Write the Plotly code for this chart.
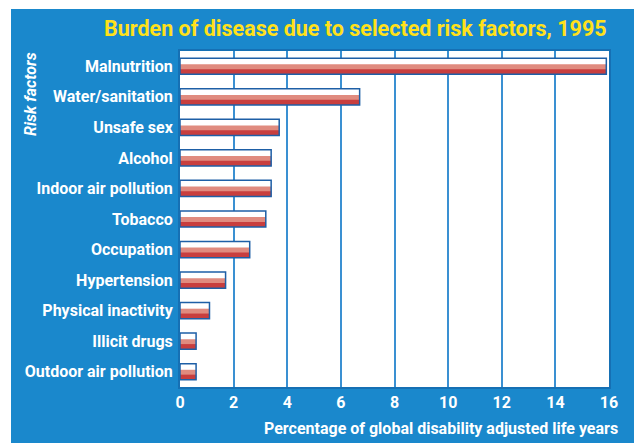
import plotly.graph_objects as go

categories = ["Malnutrition", "Water/sanitation", "Unsafe sex", "Alcohol",
              "Indoor air pollution", "Tobacco", "Occupation", "Hypertension",
              "Physical inactivity", "Illicit drugs", "Outdoor air pollution"]
values = [15.9, 6.7, 3.7, 3.4, 3.4, 3.2, 2.6, 1.7, 1.1, 0.6, 0.6]
x_ticks = [0, 2, 4, 6, 8, 10, 12, 14, 16]

W, H = 634, 443
L, R, T, B = 180, 25, 51, 56
BLUE = "#1a88cc"
FONT = "Roboto, Liberation Sans, sans-serif"

BW = 0.53  # total bar thickness in category units
top = -BW / 2

fig = go.Figure()
fig.add_trace(go.Bar(y=categories, x=values, orientation="h", width=BW, offset=top,
                     marker=dict(color="white", line=dict(width=0)), hoverinfo="skip"))
fig.add_trace(go.Bar(y=categories, x=values, orientation="h", width=BW * 0.62,
                     offset=top + BW * 0.38,
                     marker=dict(color="#e08b7f", line=dict(width=0)), hoverinfo="skip"))
fig.add_trace(go.Bar(y=categories, x=values, orientation="h", width=BW * 0.32,
                     offset=top + BW * 0.68,
                     marker=dict(color="#c83e3e", line=dict(width=0)), hoverinfo="skip"))
fig.add_trace(go.Bar(y=categories, x=values, orientation="h", width=BW, offset=top,
                     marker=dict(color="rgba(0,0,0,0)", line=dict(width=1.5, color="#1e5fa6")),
                     hoverinfo="skip"))

fig.update_layout(
    width=W, height=H, barmode="overlay", showlegend=False,
    margin=dict(l=L, r=R, t=T, b=B, autoexpand=False),
    paper_bgcolor=BLUE, plot_bgcolor="white",
    font=dict(family=FONT, color="white"),
    xaxis=dict(range=[0, 16], tickvals=x_ticks, showgrid=True, gridcolor="#3a90d2",
               gridwidth=2, zeroline=False, showline=True, linecolor="#1670b4",
               linewidth=2, mirror=True, ticks="", ticklabelstandoff=0,
               tickfont=dict(family=FONT, size=16, color="white", weight="bold"),
               fixedrange=True),
    yaxis=dict(autorange="reversed", showgrid=False, zeroline=False, showline=True,
               linecolor="#1670b4", linewidth=2, mirror=True, ticks="",
               ticklabelstandoff=2,
               tickfont=dict(family=FONT, size=16, color="white", weight="bold"),
               fixedrange=True),
    shapes=[
        dict(type="rect", xref="paper", yref="paper",
             x0=-L / 429 - 0.01, x1=(11 - L) / 429, y0=-B / 336 - 0.01, y1=1 + T / 336 + 0.01,
             fillcolor="white", line=dict(width=0), layer="below"),
        dict(type="rect", xref="paper", yref="paper",
             x0=-L / 429 - 0.01, x1=1 + R / 429 + 0.01, y0=1 + (T - 9) / 336, y1=1 + T / 336 + 0.01,
             fillcolor="white", line=dict(width=0), layer="below"),
    ],
    annotations=[
        dict(text="Burden of disease due to selected risk factors, 1995",
             xref="paper", yref="paper", x=1.0, y=1 + (T - 28) / 336,
             xanchor="right", yanchor="middle", showarrow=False,
             font=dict(family=FONT, size=21.5, color="#ffe11a", weight="bold")),
        dict(text="<i>Risk factors</i>", xref="paper", yref="paper",
             x=(30 - L) / 429, y=1 + (T - 50) / 336, xanchor="center", yanchor="top",
             textangle=-90, showarrow=False,
             font=dict(family=FONT, size=16, color="white", weight="bold")),
        dict(text="Percentage of global disability adjusted life years",
             xref="paper", yref="paper", x=1 + (620 - 609) / 429, y=-(428 - 387) / 336,
             xanchor="right", yanchor="middle", showarrow=False,
             font=dict(family=FONT, size=16, color="white", weight="bold")),
    ],
)

fig.write_html("out.html")
